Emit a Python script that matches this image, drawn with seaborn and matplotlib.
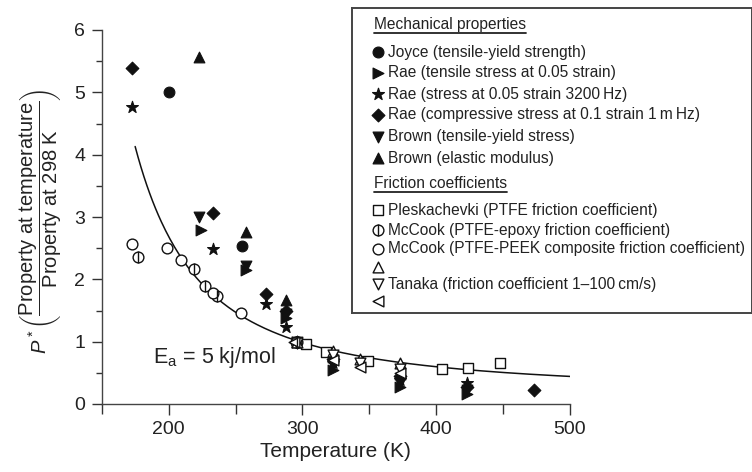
import numpy as np
import pandas as pd
import matplotlib
matplotlib.use("Agg")
import matplotlib.pyplot as plt
from matplotlib.ticker import MultipleLocator, FixedLocator
import seaborn as sns

sns.set_theme(style="ticks")
plt.rcParams["font.family"] = ["Liberation Sans", "DejaVu Sans"]
plt.rcParams["mathtext.fontset"] = "custom"
plt.rcParams["mathtext.rm"] = "Liberation Sans"
plt.rcParams["mathtext.it"] = "Liberation Sans:italic"
plt.rcParams["mathtext.sf"] = "Liberation Sans"

# ---------------- data ----------------
joyce_T = [200, 255, 296]
joyce_P = [5.00, 2.53, 1.00]
rae_tensile_T = [224, 258, 288, 296, 323, 373, 423]
rae_tensile_P = [2.79, 2.15, 1.38, 1.00, 0.55, 0.27, 0.16]
rae_stress_T = [173, 233, 273, 288, 296, 323, 373, 423]
rae_stress_P = [4.76, 2.48, 1.60, 1.23, 1.00, 0.66, 0.38, 0.33]
rae_comp_T = [173, 233, 273, 288, 296, 323, 373, 423, 473]
rae_comp_P = [5.39, 3.06, 1.77, 1.50, 1.00, 0.72, 0.45, 0.27, 0.22]
brown_ys_T = [223, 258, 288, 296, 323, 373, 423]
brown_ys_P = [3.00, 2.22, 1.44, 1.00, 0.62, 0.33, 0.22]
brown_em_T = [223, 258, 288, 296, 323, 373]
brown_em_P = [5.56, 2.76, 1.67, 1.00, 0.75, 0.48]
plesk_T = [303, 318, 349, 404, 424, 448]
plesk_P = [0.97, 0.84, 0.69, 0.56, 0.58, 0.66]
mccook_epoxy_T = [177, 219, 227, 236.5, 296]
mccook_epoxy_P = [2.36, 2.16, 1.90, 1.73, 1.00]
mccook_peek_T = [173, 199, 209, 233.5, 254, 295]
mccook_peek_P = [2.56, 2.50, 2.31, 1.78, 1.46, 1.00]
tanaka_up_T = [296, 323, 343, 373]
tanaka_up_P = [1.00, 0.85, 0.72, 0.65]
tanaka_down_T = [296, 323, 343, 373]
tanaka_down_P = [0.98, 0.78, 0.66, 0.56]
tanaka_left_T = [294, 323, 343, 373]
tanaka_left_P = [1.00, 0.70, 0.60, 0.50]

Ea = 5000.0          # J/mol, activation energy of the fit line
R_gas = 8.314
T_ref = 298.0
fit_T_range = (175, 500)

x_ticks = [200, 300, 400, 500]
y_ticks = [0, 1, 2, 3, 4, 5, 6]

mech_header = "Mechanical properties"
fric_header = "Friction coefficients"
labels = [
    "Joyce (tensile-yield strength)",
    "Rae (tensile stress at 0.05 strain)",
    "Rae (stress at 0.05 strain 3200\u2009Hz)",
    "Rae (compressive stress at 0.1 strain 1\u2009m\u2009Hz)",
    "Brown (tensile-yield stress)",
    "Brown (elastic modulus)",
    "Pleskachevki (PTFE friction coefficient)",
    "McCook (PTFE-epoxy friction coefficient)",
    "McCook (PTFE-PEEK composite friction coefficient)",
    "Tanaka (friction coefficient 1\u2013100\u2009cm/s)",
]

# ---------------- figure ----------------
W, H = 752, 472
fig = plt.figure(figsize=(W / 100, H / 100), dpi=100)
ax_l, ax_r, ax_t, ax_b = 101.7, 570.0, 30.0, 404.0
ax = fig.add_axes([ax_l / W, 1 - ax_b / H, (ax_r - ax_l) / W, (ax_b - ax_t) / H])

K = "#111111"
TXT = "#222222"
series = [
    (joyce_T, joyce_P, "o", True, 60),
    (rae_tensile_T, rae_tensile_P, ">", True, 60),
    (rae_stress_T, rae_stress_P, "*", True, 80),
    (rae_comp_T, rae_comp_P, "D", True, 42),
    (brown_ys_T, brown_ys_P, "v", True, 60),
    (brown_em_T, brown_em_P, "^", True, 60),
    (plesk_T, plesk_P, "s", False, 55),
    (mccook_epoxy_T, mccook_epoxy_P, "o", False, 60),
    (mccook_peek_T, mccook_peek_P, "o", False, 60),
    (tanaka_up_T, tanaka_up_P, "^", False, 60),
    (tanaka_down_T, tanaka_down_P, "v", False, 60),
    (tanaka_left_T, tanaka_left_P, "<", False, 60),
]

# fit line
T_fit = np.linspace(fit_T_range[0], fit_T_range[1], 300)
P_fit = np.exp(Ea / R_gas * (1.0 / T_fit - 1.0 / T_ref))
sns.lineplot(x=T_fit, y=P_fit, color=K, linewidth=1.1, ax=ax, zorder=2)

for T, P, m, filled, s in series:
    df = pd.DataFrame({"T": T, "P": P})
    if filled:
        sns.scatterplot(data=df, x="T", y="P", marker=m, s=s, color=K,
                        edgecolor=K, linewidth=0.8, ax=ax, zorder=3)
    else:
        sns.scatterplot(data=df, x="T", y="P", marker=m, s=s, color="white",
                        edgecolor=K, linewidth=1.0, ax=ax, zorder=4)

# vertical bar inside the McCook PTFE-epoxy circles
df_ep = pd.DataFrame({"T": mccook_epoxy_T, "P": mccook_epoxy_P})
ax.plot(df_ep["T"], df_ep["P"], linestyle="none", marker="|", markersize=8.5,
        markeredgewidth=1.0, color=K, zorder=5)

ax.set_xlim(150, 500)
ax.set_ylim(0, 6)
ax.xaxis.set_major_locator(FixedLocator(x_ticks))
ax.xaxis.set_minor_locator(MultipleLocator(50))
ax.yaxis.set_major_locator(FixedLocator(y_ticks))
ax.yaxis.set_minor_locator(MultipleLocator(0.5))
ax.tick_params(axis="both", which="major", labelsize=14, colors="#333333",
               labelcolor=TXT, width=1.0, direction="out")
ax.tick_params(axis="x", which="major", length=8, pad=4)
ax.tick_params(axis="x", which="minor", length=7, width=1.0, colors="#333333")
ax.tick_params(axis="y", which="major", length=7, pad=5)
ax.tick_params(axis="y", which="minor", length=4, width=1.0, colors="#333333")
for side in ["top", "right"]:
    ax.spines[side].set_visible(False)
for side in ["left", "bottom"]:
    ax.spines[side].set_color("#444444")
    ax.spines[side].set_linewidth(1.0)
ax.set_xlabel("Temperature (K)", fontsize=15, color=TXT, labelpad=3)
ax.set_ylabel("")

ax.text(188.4, 0.66, r"E$_\mathrm{a}$ = 5 kj/mol", fontsize=15.5, color=TXT,
        ha="left", va="baseline")

fig.text(41 / W, 1 - 221 / H,
         r"$\mathit{P}^*\left(\dfrac{\mathrm{Property\ at\ temperature}}{\mathrm{Property\ at\ 298\ K}}\right)$",
         rotation=90, ha="center", va="center", fontsize=14.5, color=TXT)

# ---------------- legend box ----------------
lx0, lx1, ly0, ly1 = 352, 752, 7.5, 313
lax = fig.add_axes([lx0 / W, 1 - ly1 / H, (lx1 - lx0) / W, (ly1 - ly0) / H])
lax.set_xlim(lx0, lx1)
lax.set_ylim(ly1, ly0)
lax.set_xticks([])
lax.set_yticks([])
lax.patch.set_alpha(0)
for sp in lax.spines.values():
    sp.set_color("#444444")
    sp.set_linewidth(1.4)

hx, mx, tx = 374, 378, 388
fs = 11.2
hdr1 = lax.text(hx, 29, mech_header, fontsize=fs, ha="left", va="baseline", color=TXT)
hdr2 = lax.text(hx, 188, fric_header, fontsize=fs, ha="left", va="baseline", color=TXT)

rows = [52, 73, 94, 115, 137, 158, 210, 230, 249]
for (T, P, m, filled, s), y, lab in zip(series[:9], rows, labels[:9]):
    fc = K if filled else "white"
    lax.scatter([mx], [y], marker=m, s=s, facecolor=fc, edgecolor=K,
                linewidth=0.9 if filled else 1.0, zorder=3)
    lax.text(tx, y, lab, fontsize=fs, ha="left", va="center", color=TXT)
lax.plot([mx], [230], linestyle="none", marker="|", markersize=8.5,
         markeredgewidth=1.0, color=K, zorder=4)

for (T, P, m, filled, s), y in zip(series[9:], [267, 284, 301]):
    lax.scatter([mx], [y], marker=m, s=s, facecolor="white", edgecolor=K,
                linewidth=1.0, zorder=3)
lax.text(tx, 284, labels[9], fontsize=fs, ha="left", va="center", color=TXT)

# underline headers
fig.canvas.draw()
inv = lax.transData.inverted()
for t, yu in [(hdr1, 33), (hdr2, 192)]:
    bb = t.get_window_extent()
    xa = inv.transform((bb.x0, bb.y0))[0]
    xb = inv.transform((bb.x1, bb.y0))[0]
    lax.plot([xa, xb], [yu, yu], color=TXT, linewidth=1.3)

fig.savefig("out.png", dpi=100)
